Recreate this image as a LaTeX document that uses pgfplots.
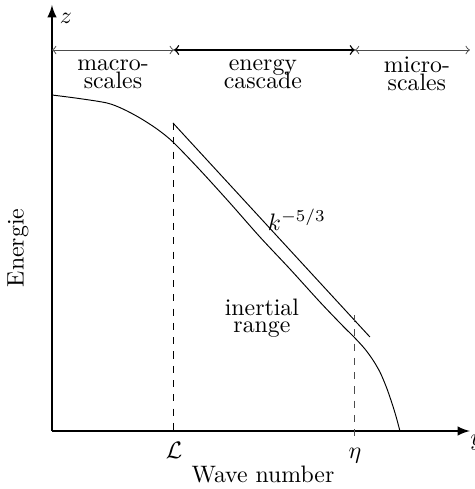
\documentclass[border=0pt]{standalone}
\usepackage{pgfplots}
\pgfplotsset{compat=1.18}
\begin{document}
\begin{tikzpicture}
\begin{axis}[
    scale only axis,
    width=175.6pt, height=179pt,
    xmin=0, xmax=418, ymin=0, ymax=426,
    axis lines=left,
    axis line style={thick, -latex},
    xtick=\empty, ytick=\empty,
    clip=false,
]

% energy spectrum
\addplot[black, smooth, tension=0.5] coordinates {
    (0,336) (27,332.5) (55,328) (71,322) (88,313) (105,302) (121,289)
    (148,261) (178,228) (208,194) (238,162) (268,129) (290,106)
    (303,93) (313,82) (321,71) (328,59) (334,45) (339,31) (344,15) (348,0)
};

% k^{-5/3} slope line
\addplot[black] coordinates {(121,308) (318,94)};

% scale boundaries
\addplot[black, dashed] coordinates {(122,308) (122,-5)};
\addplot[black!70, dashed] coordinates {(303,116) (303,-5)};

% range arrows on top
\addplot[<->, black!70] coordinates {(0,381) (122,381)};
\addplot[<->, black, semithick] coordinates {(122,381) (303,381)};
\addplot[<->, black!70] coordinates {(303,381) (418,381)};

\node[align=center] at (axis cs:61,357) {macro-\\[-4.3pt]scales};
\node[align=center] at (axis cs:211,357) {energy\\[-4.3pt]cascade};
\node[align=center] at (axis cs:365,357) {micro-\\[-4.3pt]scales};
\node at (axis cs:245,211) {$k^{-5/3}$};
\node[align=center] at (axis cs:210,113) {inertial\\[-5pt]range};

\node[anchor=base] at (axis cs:122,-27) {$\mathcal{L}$};
\node[anchor=base] at (axis cs:303,-27) {$\eta$};
\node[anchor=base] at (axis cs:211,-51) {Wave number};
\node[rotate=90] at (axis cs:-34,183) {Energie};
\node at (axis cs:14,413) {$z$};
\node[anchor=base west, inner sep=0pt] at (axis cs:418,-14) {$y$};

\coordinate (bl) at (axis cs:-52,-58);
\coordinate (tr) at (axis cs:423,431);
\end{axis}
\pgfresetboundingbox
\path[use as bounding box] (bl) rectangle (tr);
\end{tikzpicture}
\end{document}
